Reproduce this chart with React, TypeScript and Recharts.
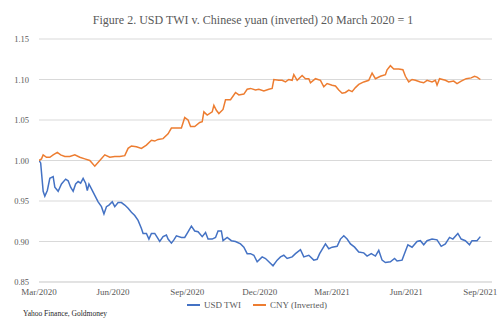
import React from "react";
import { LineChart, Line, XAxis, YAxis, CartesianGrid } from "recharts";

// days since 20 March 2020
const usdDays = [0,2,5,7,10,13,17,19,23,27,32,35,38,41,44,47,50,53,56,58,60,63,67,71,75,78,81,84,88,91,95,99,103,107,111,115,119,123,125,129,132,135,139,142,145,149,153,155,159,162,165,171,175,179,183,187,191,196,200,203,208,212,215,219,221,226,231,236,242,246,250,254,258,262,268,272,276,281,286,290,294,298,304,308,314,318,324,330,334,337,344,348,352,358,362,366,370,374,379,384,390,394,399,404,408,412,416,422,427,430,436,440,443,448,454,458,462,466,472,478,483,488,493,497,503,507,512,517,520,526,530];
const usdValues = [1.000,0.997,0.962,0.956,0.963,0.978,0.980,0.967,0.962,0.971,0.977,0.975,0.967,0.962,0.971,0.974,0.972,0.978,0.972,0.963,0.971,0.965,0.957,0.949,0.943,0.934,0.943,0.945,0.949,0.943,0.948,0.948,0.945,0.941,0.936,0.932,0.926,0.916,0.910,0.910,0.903,0.910,0.910,0.905,0.900,0.906,0.908,0.903,0.898,0.902,0.907,0.905,0.905,0.912,0.919,0.913,0.912,0.906,0.911,0.903,0.903,0.905,0.913,0.913,0.901,0.905,0.901,0.900,0.897,0.893,0.885,0.885,0.883,0.875,0.881,0.879,0.875,0.870,0.877,0.881,0.883,0.879,0.881,0.885,0.890,0.881,0.883,0.877,0.878,0.885,0.897,0.891,0.893,0.894,0.903,0.907,0.903,0.897,0.893,0.887,0.886,0.882,0.885,0.882,0.889,0.877,0.874,0.875,0.879,0.876,0.877,0.888,0.896,0.893,0.900,0.901,0.896,0.901,0.903,0.902,0.894,0.897,0.905,0.903,0.910,0.903,0.901,0.896,0.901,0.901,0.906];

const cnyDays = [0,3,5,9,13,17,22,26,31,37,43,49,55,61,67,73,79,85,91,97,103,107,111,117,123,129,135,139,143,149,155,159,165,171,175,179,182,187,193,196,198,202,208,210,213,216,221,224,230,236,240,246,250,254,260,264,270,276,280,282,288,292,296,300,304,306,310,316,320,324,326,332,338,342,346,352,356,360,364,368,372,376,380,384,390,396,400,404,410,416,418,422,426,432,437,440,444,448,452,458,462,466,472,476,478,481,488,492,498,502,507,513,519,523,526,530];
const cnyValues = [1.000,1.002,1.007,1.004,1.004,1.007,1.010,1.007,1.005,1.005,1.007,1.004,1.002,1.000,0.993,1.000,1.007,1.004,1.005,1.005,1.006,1.015,1.018,1.017,1.015,1.019,1.025,1.024,1.026,1.027,1.033,1.040,1.040,1.040,1.053,1.050,1.042,1.042,1.047,1.048,1.060,1.056,1.060,1.068,1.062,1.058,1.063,1.075,1.075,1.084,1.081,1.082,1.088,1.089,1.087,1.088,1.086,1.088,1.089,1.100,1.099,1.099,1.097,1.100,1.099,1.106,1.099,1.105,1.101,1.101,1.096,1.101,1.099,1.091,1.095,1.093,1.092,1.087,1.083,1.084,1.087,1.085,1.090,1.094,1.097,1.099,1.108,1.101,1.104,1.106,1.112,1.117,1.113,1.113,1.112,1.104,1.097,1.100,1.099,1.097,1.096,1.099,1.097,1.099,1.093,1.101,1.099,1.097,1.098,1.095,1.098,1.101,1.102,1.104,1.103,1.100];

const xTickDays = [0, 89, 178, 265, 352, 441, 530];
const xTickLabels = ["Mar/2020", "Jun/2020", "Sep/2020", "Dec/2020", "Mar/2021", "Jun/2021", "Sep/2021"];
const yTicks = [0.85, 0.9, 0.95, 1.0, 1.05, 1.1, 1.15];

const seriesNames = ["USD TWI", "CNY (Inverted)"];
const title = "Figure 2. USD TWI v. Chinese yuan (inverted) 20 March 2020 = 1";
const source = "Yahoo Finance, Goldmoney";

const usdData = usdDays.map((d, i) => ({ day: d, v: usdValues[i] }));
const cnyData = cnyDays.map((d, i) => ({ day: d, v: cnyValues[i] }));

const BLUE = "#4472C4";
const ORANGE = "#ED7D31";
const FONT = "'Liberation Serif', 'DejaVu Serif', serif";

export default function App() {
  return (
    <div style={{ position: "absolute", left: 0, top: 0, width: 500, height: 324, background: "#fff", fontFamily: FONT }}>
      <div style={{ position: "absolute", left: 0, width: 506, top: 13, textAlign: "center", fontSize: 12, color: "#595959" }}>
        {title}
      </div>
      <LineChart width={500} height={324} margin={{ top: 39, right: 8, bottom: 12, left: 0 }}>
        <CartesianGrid vertical={false} stroke="#D9D9D9" />
        <XAxis
          type="number"
          dataKey="day"
          domain={[0, 544]}
          ticks={xTickDays}
          tickFormatter={(d: number) => xTickLabels[xTickDays.indexOf(d)] ?? ""}
          tickLine={false}
          axisLine={{ stroke: "#D9D9D9" }}
          tickMargin={1}
          height={30}
          tick={{ fontSize: 9, fill: "#595959", fontFamily: FONT }}
          allowDataOverflow
        />
        <YAxis
          type="number"
          domain={[0.85, 1.15]}
          ticks={yTicks}
          tickFormatter={(v: number) => v.toFixed(2)}
          tickLine={false}
          axisLine={false}
          tickMargin={4}
          width={39}
          tick={{ fontSize: 8.5, fill: "#595959", fontFamily: FONT }}
        />
        <Line data={usdData} dataKey="v" name={seriesNames[0]} stroke={BLUE} strokeWidth={1.5} dot={false} isAnimationActive={false} type="linear" />
        <Line data={cnyData} dataKey="v" name={seriesNames[1]} stroke={ORANGE} strokeWidth={1.5} dot={false} isAnimationActive={false} type="linear" />
      </LineChart>
      <div style={{ position: "absolute", left: 187, top: 300, display: "flex", alignItems: "center", fontSize: 9, color: "#595959" }}>
        <span style={{ display: "inline-block", width: 13, height: 2, background: BLUE, marginRight: 4 }} />
        <span style={{ marginRight: 12 }}>{seriesNames[0]}</span>
        <span style={{ display: "inline-block", width: 13, height: 2, background: ORANGE, marginRight: 4 }} />
        <span>{seriesNames[1]}</span>
      </div>
      <div style={{ position: "absolute", left: 23, top: 309, fontSize: 7.5, color: "#262626" }}>{source}</div>
    </div>
  );
}
